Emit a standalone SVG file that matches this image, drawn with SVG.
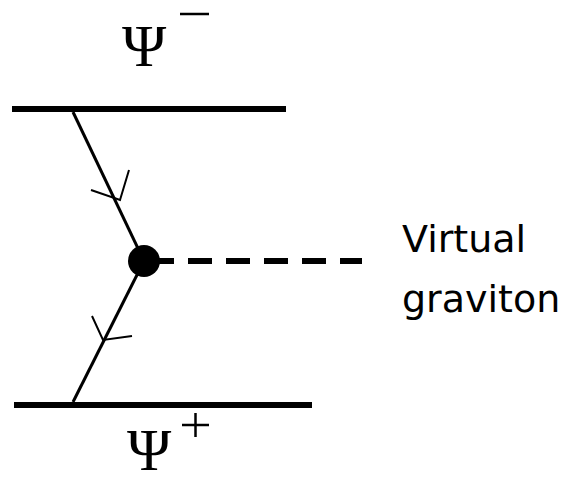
<svg xmlns="http://www.w3.org/2000/svg" width="566" height="484" viewBox="0 0 566 484">
<style>
.bar{stroke:#000;stroke-width:6;fill:none}
.ferm{stroke:#000;stroke-width:3;fill:none}
.barb{stroke:#000;stroke-width:2;fill:none}
.dash{stroke:#000;stroke-width:6;stroke-dasharray:24 14;fill:none}
.psi{font-family:"Liberation Serif","DejaVu Serif",serif;font-size:60px;fill:#000}
.sup{stroke:#000;stroke-width:2.5;fill:none}
.lbl{font-family:"DejaVu Sans","Liberation Sans",sans-serif;font-size:38px;fill:#000}
</style>
<rect width="566" height="484" fill="#fff"/>
<g id="top-state">
<line class="bar" x1="12" y1="109" x2="286" y2="109"/>
<text class="psi" x="122" y="66">Ψ</text>
<line class="sup" x1="180" y1="14" x2="209" y2="14"/>
</g>
<g id="bottom-state">
<line class="bar" x1="14" y1="405" x2="312" y2="405"/>
<text class="psi" x="127" y="470">Ψ</text>
<line class="sup" x1="182" y1="425" x2="209" y2="425"/>
<line class="sup" x1="195.5" y1="413" x2="195.5" y2="437"/>
</g>
<g id="vertex">
<circle cx="144" cy="261" r="16" fill="#000"/>
</g>
<g id="label">
<text class="lbl" x="402" y="252">Virtual</text>
<text class="lbl" x="402" y="312">graviton</text>
</g>
<g id="connectors">
<line class="ferm" x1="73" y1="112" x2="144" y2="261"/>
<polyline class="barb" points="91,190 120,200 129,170"/>
<line class="ferm" x1="144" y1="261" x2="73" y2="402"/>
<polyline class="barb" points="92,316 103,340 132,336"/>
<line class="dash" x1="150" y1="261" x2="362" y2="261"/>
</g>
</svg>
